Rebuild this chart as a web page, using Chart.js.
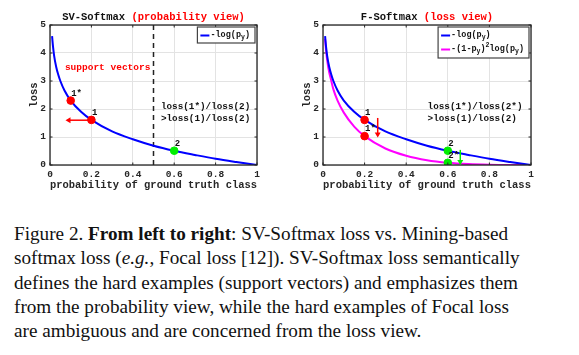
<!DOCTYPE html>
<html><head><meta charset="utf-8">
<script src="https://cdn.jsdelivr.net/npm/chart.js@4"></script>
<style>
html,body{margin:0;padding:0;background:#fff;width:579px;height:355px;overflow:hidden;position:relative}
.c{position:absolute;top:0}
#caption{position:absolute;left:14px;top:222px;width:488px;font-family:"Liberation Serif","Times New Roman",serif;font-size:19.2px;line-height:24.3px;color:#111}
#caption .ln{text-align:justify;text-align-last:justify;white-space:nowrap;height:24.3px}
#caption .ln.last{text-align-last:left}
</style></head><body>
<canvas id="c1" class="c" style="left:0" width="290" height="200"></canvas>
<canvas id="c2" class="c" style="left:290px" width="289" height="200"></canvas>
<div id="caption">
<div class="ln">Figure 2. <b>From left to right</b>: SV-Softmax loss vs. Mining-based</div>
<div class="ln">softmax loss (<i>e.g.</i>, Focal loss [12]). SV-Softmax loss semantically</div>
<div class="ln">defines the hard examples (support vectors) and emphasizes them</div>
<div class="ln">from the probability view, while the hard examples of Focal loss</div>
<div class="ln last">are ambiguous and are concerned from the loss view.</div>
</div>
<script>
// ---- data ----
const probs = [0.01,0.015,0.02,0.03,0.04,0.05,0.07,0.1,0.15,0.2,0.3,0.4,0.5,0.6,0.7,0.8,0.9,1.0];
const ceLoss = [4.6,4.2,3.9,3.5,3.22,3.0,2.66,2.3,1.9,1.61,1.2,0.92,0.69,0.51,0.36,0.22,0.105,0];
const focalLoss = [4.51,4.08,3.75,3.3,3.0,2.7,2.3,1.87,1.37,1.03,0.59,0.33,0.17,0.08,0.032,0.009,0.001,0];
const xTicks = [0,0.2,0.4,0.6,0.8,1];
const xTickLabels = ['0','0.2','0.4','0.6','0.8','1'];
const yTicks = [0,1,2,3,4,5];
const yTickLabels = ['0','1','2','3','4','5'];

// left chart markers
const svRedX = [0.1,0.2], svRedY = [2.3,1.61], svRedLbl = ['1*','1'];
const svGreenX = [0.6], svGreenY = [0.51], svGreenLbl = ['2'];
const svBoundaryX = [0.5,0.5], svBoundaryY = [0,5];
const svArrowFrom = [0.19,1.6], svArrowTo = [0.075,1.6];

// right chart markers
const fRedX = [0.2,0.2], fRedY = [1.61,1.03], fRedLbl = ['1','1*'];
const fGreenX = [0.6,0.6], fGreenY = [0.51,0.08], fGreenLbl = ['2','2*'];
const fRedArrowFrom = [0.263,1.68], fRedArrowTo = [0.263,0.98];
const fGreenArrowFrom = [0.66,0.54], fGreenArrowTo = [0.66,0.0];

const MONO = '"Liberation Mono","Courier New",monospace';
const BLUE = '#0000ff', MAG = '#ff00ff', RED = '#ff0000', GREEN = '#00ee00';

const zip = (xs, ys) => xs.map((x,i)=>({x, y: ys[i]}));

function arrow(ctx, x1, y1, x2, y2, color){
  ctx.save();
  ctx.strokeStyle = color; ctx.fillStyle = color; ctx.lineWidth = 1.5;
  const a = Math.atan2(y2-y1, x2-x1), h = 5;
  ctx.beginPath(); ctx.moveTo(x1,y1); ctx.lineTo(x2 - Math.cos(a)*2, y2 - Math.sin(a)*2); ctx.stroke();
  ctx.beginPath();
  ctx.moveTo(x2,y2);
  ctx.lineTo(x2 - h*Math.cos(a) + 3*Math.sin(a), y2 - h*Math.sin(a) - 3*Math.cos(a));
  ctx.lineTo(x2 - h*Math.cos(a) - 3*Math.sin(a), y2 - h*Math.sin(a) + 3*Math.cos(a));
  ctx.closePath(); ctx.fill();
  ctx.restore();
}

function drawSubText(ctx, parts, x, y){
  let cx = x;
  for (const p of parts){
    const size = p.s ? 6.5 : 8.5;
    ctx.font = 'bold ' + size + 'px ' + MONO;
    const dy = p.s === 'sub' ? 3 : (p.s === 'sup' ? -3.5 : 0);
    ctx.fillText(p.t, cx, y + dy);
    cx += ctx.measureText(p.t).width;
  }
  return cx - x;
}

function makeChart(id, cfg){
  const datasets = cfg.lines.map(l => ({
    type:'line', data: zip(probs, l.data), borderColor: l.color, borderWidth: 2,
    pointRadius: 0, cubicInterpolationMode:'monotone', fill:false, order: 2
  }));
  if (cfg.boundary){
    datasets.push({type:'line', data: zip(cfg.boundary[0], cfg.boundary[1]), borderColor:'#222',
      borderWidth:1.5, borderDash:[5,4], pointRadius:0, fill:false, order:3});
  }
  for (const m of cfg.markers){
    datasets.push({type:'scatter', data: zip(m.x, m.y), backgroundColor: m.color, borderColor: m.color,
      pointRadius: 3.8, order: 0});
  }
  const plugin = {
    id: 'decor'+id,
    beforeDraw(chart){
      const {ctx} = chart; ctx.save(); ctx.fillStyle='#fff'; ctx.fillRect(0,0,chart.width,chart.height); ctx.restore();
    },
    afterDatasetsDraw(chart){
      const {ctx, chartArea: ca, scales:{x, y}} = chart;
      ctx.save();
      ctx.strokeStyle = '#262626'; ctx.lineWidth = 1.3;
      ctx.strokeRect(ca.left, ca.top, ca.right-ca.left, ca.bottom-ca.top);
      ctx.lineWidth = 1;
      for (const t of xTicks){ const px = x.getPixelForValue(t);
        ctx.beginPath(); ctx.moveTo(px, ca.bottom); ctx.lineTo(px, ca.bottom-2.5); ctx.moveTo(px, ca.top); ctx.lineTo(px, ca.top+2.5); ctx.stroke(); }
      for (const t of yTicks){ const py = y.getPixelForValue(t);
        ctx.beginPath(); ctx.moveTo(ca.left, py); ctx.lineTo(ca.left+2.5, py); ctx.moveTo(ca.right, py); ctx.lineTo(ca.right-2.5, py); ctx.stroke(); }
      for (const a of cfg.arrows){
        arrow(ctx, x.getPixelForValue(a.from[0]), y.getPixelForValue(a.from[1]), x.getPixelForValue(a.to[0]), y.getPixelForValue(a.to[1]), a.color);
      }
      ctx.fillStyle = '#111'; ctx.font = 'bold 9px ' + MONO; ctx.textBaseline = 'middle'; ctx.textAlign='left';
      for (const m of cfg.markers){
        m.x.forEach((vx,i)=>{
          ctx.fillText(m.lbl[i], x.getPixelForValue(vx)+0.5, y.getPixelForValue(m.y[i])-7);
        });
      }
      for (const t of cfg.texts){
        ctx.fillStyle = t.color; ctx.font = 'bold ' + t.size + 'px ' + MONO;
        ctx.fillText(t.text, x.getPixelForValue(t.x), y.getPixelForValue(t.y));
      }
      const lg = cfg.legend;
      const widths = lg.map(e => {
        let w = 0; for (const p of e.parts){ ctx.font = 'bold ' + (p.s?6.5:8.5) + 'px ' + MONO; w += ctx.measureText(p.t).width; } return w; });
      const bw = 4 + 9 + 1 + Math.max(...widths) + 4;
      const bh = lg.length === 1 ? 16 : 31;
      const bx = ca.right - 2 - bw, by = ca.top + 2;
      ctx.fillStyle = '#fff'; ctx.fillRect(bx, by, bw, bh);
      ctx.strokeStyle = '#444'; ctx.lineWidth = 1.2; ctx.strokeRect(bx, by, bw, bh);
      lg.forEach((e, i) => {
        const ly = by + (lg.length === 1 ? 8.5 : 8.5 + i*14);
        ctx.strokeStyle = e.color; ctx.lineWidth = 2;
        ctx.beginPath(); ctx.moveTo(bx+3, ly); ctx.lineTo(bx+12, ly); ctx.stroke();
        ctx.fillStyle = '#111'; ctx.textBaseline = 'middle';
        drawSubText(ctx, e.parts, bx+13, ly-1);
      });
      ctx.textBaseline = 'middle';
      ctx.font = 'bold 10.5px ' + MONO;
      const w1 = ctx.measureText(cfg.title[0]).width, w2 = ctx.measureText(cfg.title[1]).width;
      const cx = (ca.left + ca.right)/2, sx = cx - (w1+w2)/2;
      ctx.fillStyle = '#111'; ctx.fillText(cfg.title[0], sx, 17);
      ctx.fillStyle = RED; ctx.fillText(cfg.title[1], sx + w1, 17);
      ctx.restore();
    }
  };
  return new Chart(document.getElementById(id), {
    type: 'line',
    data: { datasets },
    plugins: [plugin],
    options: {
      responsive: false, animation: false, devicePixelRatio: 1,
      layout: { padding: { left: 0, top: 25, right: cfg.padRight, bottom: 0 } },
      plugins: { legend: {display:false}, tooltip: {enabled:false}, title:{display:false} },
      scales: {
        x: {
          type:'linear', min:0, max:1,
          afterBuildTicks: s => { s.ticks = xTicks.map(v=>({value:v})); },
          afterFit: s => { s.height = 35; },
          grid: { color:'#e3e3e3', lineWidth:1, drawTicks:false },
          border: { display:false },
          ticks: { color:'#262626', font:{family:MONO, size:9.5, weight:'bold'}, padding: 4, maxRotation:0,
            callback: (v) => xTickLabels[xTicks.findIndex(t => Math.abs(t - v) < 1e-9)] },
          title: { display:true, text:'probability of ground truth class', color:'#262626',
            font:{family:MONO, size:10.5, weight:'bold'}, padding:{top:0,bottom:8.5} }
        },
        y: {
          type:'linear', min:0, max:5,
          afterBuildTicks: s => { s.ticks = yTicks.map(v=>({value:v})); },
          afterFit: s => { s.width = cfg.yWidth; },
          grid: { color:'#e3e3e3', lineWidth:1, drawTicks:false },
          border: { display:false },
          ticks: { color:'#262626', font:{family:MONO, size:9.5, weight:'bold'}, padding: 4,
            callback: (v) => yTickLabels[yTicks.findIndex(t => Math.abs(t - v) < 1e-9)] },
          title: { display:true, text:'loss', color:'#262626',
            font:{family:MONO, size:10.5, weight:'bold'}, padding:{top:cfg.yTitlePad,bottom:0} }
        }
      }
    }
  });
}

makeChart('c1', {
  padRight: 33, yWidth: 50, yTitlePad: 28.5,
  lines: [{data: ceLoss, color: BLUE}],
  boundary: [svBoundaryX, svBoundaryY],
  markers: [
    {x: svRedX, y: svRedY, lbl: svRedLbl, color: RED},
    {x: svGreenX, y: svGreenY, lbl: svGreenLbl, color: GREEN}
  ],
  arrows: [{from: svArrowFrom, to: svArrowTo, color: RED}],
  texts: [
    {text:'support vectors', x:0.072, y:3.49, color: RED, size: 9.5},
    {text:'loss(1*)/loss(2)', x:0.536, y:2.08, color:'#111', size: 9.3},
    {text:'>loss(1)/loss(2)', x:0.536, y:1.67, color:'#111', size: 9.3}
  ],
  legend: [{color: BLUE, parts:[{t:'-log(p'},{t:'y',s:'sub'},{t:')'}]}],
  title: ['SV-Softmax ', '(probability view)']
});

makeChart('c2', {
  padRight: 48, yWidth: 33, yTitlePad: 11.5,
  lines: [{data: ceLoss, color: BLUE}, {data: focalLoss, color: MAG}],
  boundary: null,
  markers: [
    {x: fRedX, y: fRedY, lbl: fRedLbl, color: RED},
    {x: fGreenX, y: fGreenY, lbl: fGreenLbl, color: GREEN}
  ],
  arrows: [{from: fRedArrowFrom, to: fRedArrowTo, color: RED}, {from: fGreenArrowFrom, to: fGreenArrowTo, color: GREEN}],
  texts: [
    {text:'loss(1*)/loss(2*)', x:0.503, y:2.08, color:'#111', size: 9.3},
    {text:'>loss(1)/loss(2)', x:0.503, y:1.67, color:'#111', size: 9.3}
  ],
  legend: [
    {color: BLUE, parts:[{t:'-log(p'},{t:'y',s:'sub'},{t:')'}]},
    {color: MAG, parts:[{t:'-(1-p'},{t:'y',s:'sub'},{t:')'},{t:'2',s:'sup'},{t:'log(p'},{t:'y',s:'sub'},{t:')'}]}
  ],
  title: ['F-Softmax ', '(loss view)']
});
</script>
</body></html>
